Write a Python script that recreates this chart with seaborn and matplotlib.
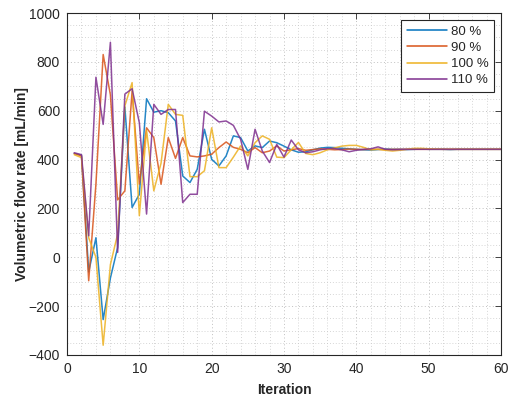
import numpy as np
import pandas as pd
import matplotlib
matplotlib.use("Agg")
import matplotlib.pyplot as plt
import seaborn as sns

# Iteration index and volumetric flow rate [mL/min] for each pump setting
iterations = list(range(1, 61))

flow_80 = [425, 418, -60, 80, -255, -85, 40, 615, 204, 258,
           649, 594, 600, 592, 558, 333, 306, 360, 524, 401,
           374, 415, 497, 490, 435, 456, 449, 476, 469, 455,
           440, 430, 432, 440, 447, 450, 449, 446, 444, 442,
           440, 439, 441, 443, 442, 442, 441, 442, 443, 442,
           442, 442, 441, 442, 442, 442, 442, 442, 442, 442]

flow_90 = [425, 415, -96, 300, 830, 665, 235, 272, 680, 300,
           530, 490, 299, 490, 405, 490, 415, 411, 415, 422,
           449, 472, 450, 442, 428, 449, 428, 435, 456, 435,
           440, 445, 438, 441, 444, 442, 440, 441, 443, 442,
           441, 442, 442, 441, 442, 442, 442, 442, 442, 442,
           442, 442, 442, 442, 442, 442, 442, 442, 442, 442]

flow_100 = [420, 408, 80, 0, -360, -30, 95, 620, 715, 170,
            520, 272, 385, 626, 585, 581, 330, 330, 354, 530,
            367, 367, 410, 456, 415, 469, 497, 483, 410, 408,
            440, 470, 425, 420, 428, 440, 448, 455, 458, 458,
            450, 440, 442, 438, 435, 438, 442, 446, 446, 444,
            443, 442, 442, 442, 442, 442, 442, 442, 442, 442]

flow_110 = [428, 420, 88, 737, 544, 880, 20, 668, 690, 551,
            177, 626, 585, 605, 605, 224, 258, 258, 598, 578,
            554, 558, 540, 483, 360, 524, 435, 388, 462, 410,
            480, 440, 428, 432, 440, 445, 445, 440, 432, 438,
            442, 444, 452, 442, 440, 441, 442, 442, 442, 442,
            442, 442, 442, 442, 442, 442, 442, 442, 442, 442]

series_labels = ["80 %", "90 %", "100 %", "110 %"]
series_colors = ["#0072BD", "#D95319", "#EDB120", "#7E2F8E"]

frames = []
for label, values in zip(series_labels, [flow_80, flow_90, flow_100, flow_110]):
    frames.append(pd.DataFrame({"Iteration": iterations, "flow": values, "setting": label}))
df = pd.concat(frames, ignore_index=True)

sns.set_theme(style="white")
plt.rcParams["font.family"] = ["Liberation Sans", "DejaVu Sans"]

fig = plt.figure(figsize=(5.13, 4.01), dpi=100)
ax = fig.add_axes([67 / 513, 1 - 355 / 401, 434 / 513, 342 / 401])

sns.lineplot(data=df, x="Iteration", y="flow", hue="setting",
             hue_order=series_labels, palette=series_colors,
             linewidth=1.1, alpha=0.85, ax=ax, legend=True)

ax.set_xlim(0, 60)
ax.set_ylim(-400, 1000)
ax.set_xticks(np.arange(0, 61, 10))
ax.set_yticks(np.arange(-400, 1001, 200))
ax.set_xticks(np.arange(0, 61, 2), minor=True)
ax.set_yticks(np.arange(-400, 1001, 50), minor=True)

ax.grid(which="major", color="#c0c0c0", linestyle=(0, (1, 2.5)), linewidth=0.7)
ax.grid(which="minor", color="#c8c8c8", linestyle=(0, (1, 2.5)), linewidth=0.6)
ax.set_axisbelow(True)

for side in ["top", "right", "bottom", "left"]:
    ax.spines[side].set_visible(True)
    ax.spines[side].set_color("#262626")
    ax.spines[side].set_linewidth(0.8)

ax.tick_params(which="major", direction="in", length=4, width=0.6,
               top=True, right=True, colors="#262626", labelsize=10,
               labelcolor="#262626", pad=5)
ax.tick_params(which="minor", length=0, top=True, right=True)

ax.set_xlabel("Iteration", fontsize=10, fontweight="bold", color="#262626", labelpad=5)
ax.set_ylabel("Volumetric flow rate [mL/min]", fontsize=10, fontweight="bold",
              color="#262626", labelpad=0)

leg = ax.legend(loc="upper right", fontsize=9.5, frameon=True, fancybox=False,
                edgecolor="#262626", framealpha=1, handlelength=3.0,
                borderaxespad=0.5, labelspacing=0.3, handletextpad=0.3,
                borderpad=0.45)
leg.get_frame().set_linewidth(0.8)
for line in leg.get_lines():
    line.set_alpha(1.0)
for txt in leg.get_texts():
    txt.set_color("#262626")

fig.savefig("out.png", dpi=100)
